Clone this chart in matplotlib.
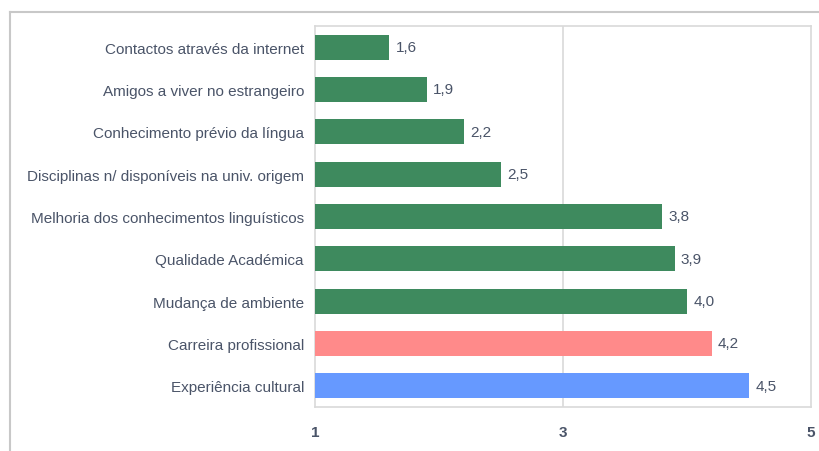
import matplotlib.pyplot as plt
from matplotlib.lines import Line2D

categories = ['Contactos através da internet', 'Amigos a viver no estrangeiro',
              'Conhecimento prévio da língua', 'Disciplinas n/ disponíveis na univ. origem',
              'Melhoria dos conhecimentos linguísticos', 'Qualidade Académica',
              'Mudança de ambiente', 'Carreira profissional', 'Experiência cultural']
values = [1.6, 1.9, 2.2, 2.5, 3.8, 3.9, 4.0, 4.2, 4.5]
bar_colors = ['#3e8a5e'] * 7 + ['#ff8a8a', '#6699ff']
xticks = [1, 3, 5]

text_col = '#4a5468'
grid_col = '#d9d9d9'

plt.rcParams['font.family'] = ['Liberation Sans', 'DejaVu Sans']

fig = plt.figure(figsize=(8.19, 4.52), dpi=100)
ax = fig.add_axes([315 / 819, 1 - 408 / 452, (811 - 315) / 819, (408 - 27) / 452])

ypos = list(range(len(categories)))[::-1]
ax.barh(ypos, [v - 1 for v in values], left=1, height=0.59, color=bar_colors, zorder=3)
for y, v in zip(ypos, values):
    ax.text(v + 0.05, y, f'{v:.1f}'.replace('.', ','), va='center', ha='left',
            fontsize=11, color=text_col)

ax.set_xlim(1, 5)
ax.set_ylim(-0.5, len(categories) - 0.5)
ax.set_yticks(ypos)
ax.set_yticklabels(categories, fontsize=11, color=text_col)
ax.set_xticks(xticks)
ax.set_xticklabels([str(t) for t in xticks], fontsize=11, fontweight='bold', color=text_col)
ax.tick_params(axis='both', length=0)
ax.tick_params(axis='x', pad=13)
ax.tick_params(axis='y', pad=8)
ax.axvline(3, color=grid_col, lw=1.2, zorder=1)
for s in ax.spines.values():
    s.set_color(grid_col)
    s.set_linewidth(1.2)

# outer frame of the chart (top and left only)
fig.add_artist(Line2D([10 / 819, 1], [1 - 13 / 452] * 2, color='#c8c8c8', lw=1.5,
                      transform=fig.transFigure))
fig.add_artist(Line2D([10 / 819] * 2, [0, 1 - 13 / 452], color='#c8c8c8', lw=1.5,
                      transform=fig.transFigure))

fig.savefig('out.png', dpi=100)
